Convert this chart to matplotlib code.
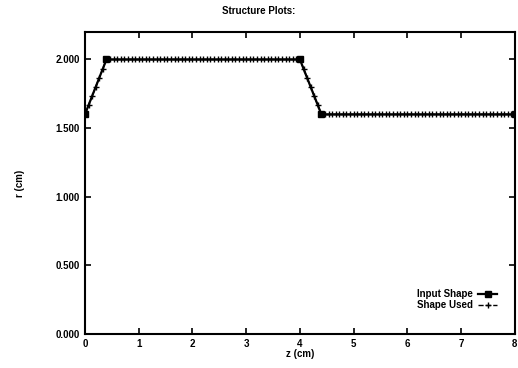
import numpy as np
import matplotlib
matplotlib.use("Agg")
import matplotlib.pyplot as plt

# Input shape vertices
z_input = [0.0, 0.4, 4.0, 4.4, 8.0]
r_input = [1.6, 2.0, 2.0, 1.6, 1.6]

# Shape used: sampled on 120 equal steps over the 8 cm
z_used = [8.0 * i / 120 for i in range(121)]
r_used = list(np.interp(z_used, z_input, r_input))

plt.rcParams['font.family'] = ['Liberation Sans', 'DejaVu Sans']
plt.rcParams['font.weight'] = 'bold'
plt.rcParams['font.size'] = 7

fig = plt.figure(figsize=(5.18, 3.68), dpi=100)
ax = fig.add_axes([0.164, 0.092, 0.830, 0.821])

ax.plot(z_input, r_input, color='black', linewidth=1.6, marker='s', markersize=4.5,
        label='Input Shape')
ax.plot(z_used, r_used, color='black', linewidth=1.0, linestyle='--', marker='+',
        markersize=5, markeredgewidth=1.0, label='Shape Used')

ax.set_xlim(0, 8)
ax.set_ylim(0, 2.2)
ax.set_xticks(range(0, 9))
ax.set_yticks([0, 0.5, 1.0, 1.5, 2.0])
ax.set_yticklabels(['%.3f' % v for v in [0, 0.5, 1.0, 1.5, 2.0]])
ax.tick_params(direction='in', top=True, right=True, length=4, width=1.2)
for s in ax.spines.values():
    s.set_linewidth(1.5)

ax.set_xlabel('z (cm)', fontweight='bold', labelpad=0)
ax.set_ylabel('r (cm)', fontweight='bold', labelpad=22)
fig.text(0.5, 0.985, 'Structure Plots:', ha='center', va='top', fontweight='bold', fontsize=7)

ax.legend(loc='lower right', frameon=False, markerfirst=False, handlelength=2.0,
          borderaxespad=0.3, labelspacing=0.1, handletextpad=0.5,
          bbox_to_anchor=(0.975, 0.056), prop={'weight': 'bold', 'size': 7})

fig.savefig('out.png', dpi=100)
